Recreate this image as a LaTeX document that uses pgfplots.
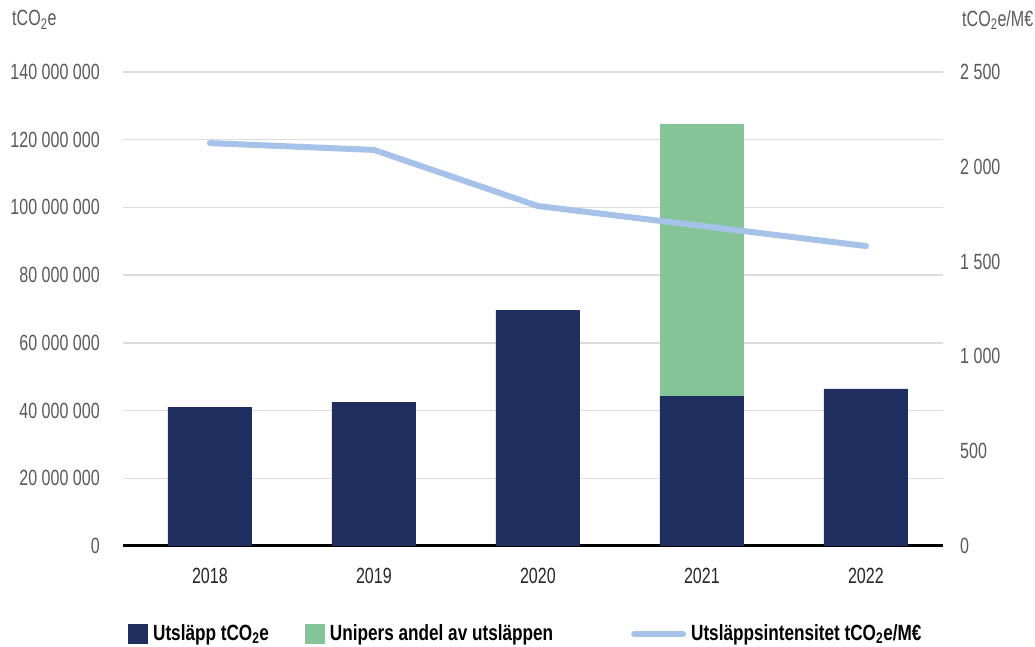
\documentclass[border=0pt]{standalone}
\usepackage{fontspec}
\setmainfont{Liberation Sans}[FakeStretch=0.73, BoldFeatures={FakeStretch=0.78}]
\usepackage{pgfplots}
\pgfplotsset{compat=1.18}

\definecolor{navy}{HTML}{1F2E5F}
\definecolor{unigreen}{HTML}{85C497}
\definecolor{intblue}{HTML}{A6C2E8}
\definecolor{gridgrey}{HTML}{DCDCDC}
\definecolor{labgrey}{HTML}{595959}

\pgfplotsset{
  basestyle/.style={
    scale only axis,
    width=820pt, height=474pt,
    at={(123pt,101pt)}, anchor=south west,
    xmin=-0.53, xmax=4.47,
    ymin=0,
    major tick length=0pt,
    tick style={draw=none},
  },
}

\begin{document}
\fontsize{22}{26}\selectfont
\begin{tikzpicture}
\useasboundingbox (0,0) rectangle (1035pt,647pt);

\begin{axis}[
  basestyle,
  ymax=140000000,
  ybar stacked, bar width=84pt,
  xtick={0,1,2,3,4},
  xticklabels={2018,2019,2020,2021,2022},
  x tick label style={text=black!85, inner sep=0pt, yshift=-22pt},
  ytick={0,20000000,40000000,60000000,80000000,100000000,120000000,140000000},
  yticklabels={0,20 000 000,40 000 000,60 000 000,80 000 000,100 000 000,120 000 000,140 000 000},
  y tick label style={text=labgrey, anchor=east, inner sep=0pt, xshift=-23pt},
  scaled y ticks=false,
  ymajorgrids,
  grid style={gridgrey, line width=1.5pt},
  axis x line*=bottom,
  axis y line*=left,
  y axis line style={draw=none},
  x axis line style={black, line width=3pt, -},
  legend style={
    at={(axis description cs:0.006,-0.1857)}, anchor=west,
    draw=none, fill=none, inner sep=0pt,
    legend columns=3,
    font=\bfseries,
    nodes={inner sep=0pt, text=black},
    /tikz/every odd column/.append style={column sep=5pt},
    /tikz/every even column/.append style={column sep=36pt},
  },
]
\addplot[fill=navy, draw=none,
  legend image code/.code={\fill[navy] (0pt,-10pt) rectangle (20pt,10pt);}]
  coordinates {(0,41000000) (1,42500000) (2,69700000) (3,44300000) (4,46400000)};
\addlegendentry{Utsläpp tCO\textsubscript{2}e}
\addplot[fill=unigreen, draw=none,
  legend image code/.code={\fill[unigreen] (0pt,-10pt) rectangle (20pt,10pt);}]
  coordinates {(0,0) (1,0) (2,0) (3,80300000) (4,0)};
\addlegendentry{Unipers andel av utsläppen\hspace*{42pt}}
\addlegendimage{intblue, line width=6pt, line cap=round,
  legend image code/.code={\path[draw=none, fill=none] (0pt,-10pt) (55pt,10pt);
    \draw[intblue, line width=6pt, line cap=round] (3pt,0pt) -- (52pt,0pt);}}
\addlegendentry{Utsläppsintensitet tCO\textsubscript{2}e/M€}
\end{axis}

\begin{axis}[
  basestyle,
  ymax=2500,
  axis x line=none,
  axis y line*=right,
  y axis line style={draw=none},
  ytick={0,500,1000,1500,2000,2500},
  yticklabels={0,500,1 000,1 500,2 000,2 500},
  y tick label style={text=labgrey, anchor=west, inner sep=0pt, xshift=17pt},
]
\addplot[intblue, line width=6pt, line cap=round, line join=round]
  coordinates {(0,2125) (1,2089) (2,1793) (3,1688) (4,1582)};
\end{axis}

\node[anchor=west, text=labgrey, inner sep=0pt] at (12pt,627pt) {tCO\textsubscript{2}e};
\node[anchor=west, text=labgrey, inner sep=0pt] at (962pt,627pt) {tCO\textsubscript{2}e/M€};
\end{tikzpicture}
\end{document}
